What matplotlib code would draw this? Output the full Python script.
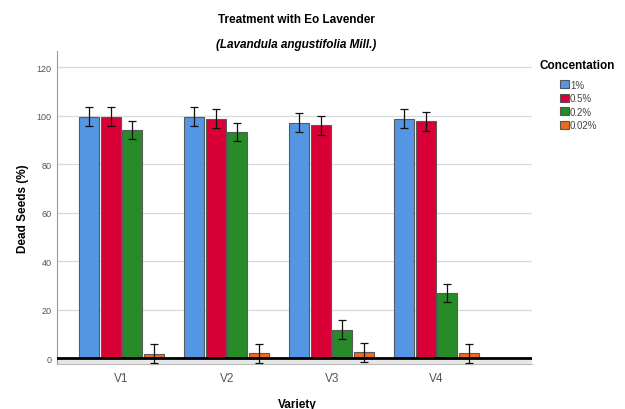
import numpy as np
import matplotlib
matplotlib.use("Agg")
import matplotlib.pyplot as plt
from matplotlib.patches import Patch

plt.rcParams['font.family'] = ['Liberation Sans', 'DejaVu Sans']

varieties = ["V1", "V2", "V3", "V4"]
concentrations = ["1%", "0.5%", "0.2%", "0.02%"]
dead_1 = [99.5, 99.5, 97.0, 98.7]
dead_05 = [99.5, 98.7, 96.0, 97.6]
dead_02 = [94.0, 93.2, 11.7, 26.8]
dead_002 = [1.7, 2.0, 2.3, 2.0]
err_1 = [4.0, 4.0, 4.0, 3.9]
err_05 = [4.0, 4.0, 3.9, 3.9]
err_02 = [3.8, 3.9, 3.8, 3.8]
err_002 = [3.9, 3.9, 4.0, 3.9]
colors = ["#5596E4", "#D80036", "#288A28", "#F06A1E"]

means = [dead_1, dead_05, dead_02, dead_002]
errs = [err_1, err_05, err_02, err_002]

fig = plt.figure(figsize=(6.25, 4.1), dpi=100)
ax = fig.add_axes([57 / 625, 45 / 410, 475 / 625, 313 / 410])

x = np.arange(len(varieties))
step = 0.205
width = 0.19
for i, (m, e, c) in enumerate(zip(means, errs, colors)):
    pos = x + (i - 1.5) * step
    ax.bar(pos, m, width=width, color=c, edgecolor="#5a5a5a", linewidth=0.8, zorder=3)
    ax.errorbar(pos, m, yerr=e, fmt="none", ecolor="#111111", elinewidth=0.9,
                capsize=2.6, capthick=0.9, zorder=4)

ax.set_xlim(-0.616, 3.908)
ax.set_ylim(-2.47, 126.6)
ax.set_yticks([0, 20, 40, 60, 80, 100, 120])
ax.set_xticks(x)
ax.set_xticklabels(varieties)
ax.grid(axis="y", color="#d9d9d9", linewidth=0.9, zorder=0)
ax.axhspan(-2.47, 0, color="#e6e6e6", zorder=1, linewidth=0)
ax.axhline(0, color="black", linewidth=2.0, zorder=5)

for s in ["top", "right"]:
    ax.spines[s].set_visible(False)
ax.spines["left"].set_color("#999999")
ax.spines["bottom"].set_color("#bbbbbb")
ax.tick_params(axis="y", length=0, labelsize=6.5, labelcolor="#555555", pad=4)
ax.tick_params(axis="x", length=0, labelsize=8.5, labelcolor="#555555", pad=6)

ax.set_ylabel("Dead Seeds (%)", fontsize=8.5, fontweight="bold", labelpad=5)
fig.text(297 / 625, 1 - 405 / 410, "Variety", ha="center", va="center",
         fontsize=8.5, fontweight="bold")

fig.text(296 / 625, 1 - 20 / 410, "Treatment with Eo Lavender", ha="center",
         va="center", fontsize=8.5, fontweight="bold")
fig.text(296 / 625, 1 - 45 / 410, "(Lavandula angustifolia Mill.)", ha="center",
         va="center", fontsize=8.5, fontweight="bold", style="italic")

fig.text(539 / 625, 1 - 66 / 410, "Concentation", ha="left", va="center",
         fontsize=8.5, fontweight="bold")
handles = [Patch(facecolor=c, edgecolor="#555555", linewidth=0.8) for c in colors]
leg = fig.legend(handles, concentrations, loc="upper left",
                 bbox_to_anchor=(553 / 625, 1 - 74 / 410), frameon=False,
                 fontsize=7, handlelength=0.9, handleheight=0.9,
                 handletextpad=0.15, labelspacing=0.35, borderpad=0.2)
for t in leg.get_texts():
    t.set_color("#444444")

fig.savefig("out.png", dpi=100)
